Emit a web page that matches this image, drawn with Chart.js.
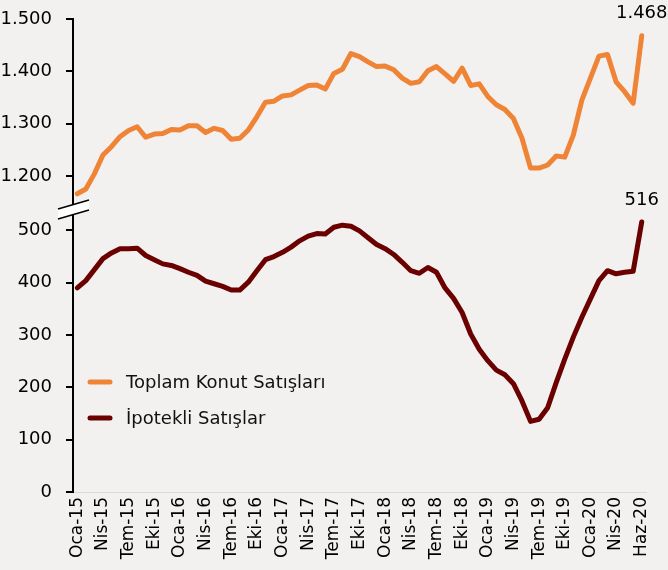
<!DOCTYPE html>
<html lang="tr">
<head>
<meta charset="utf-8">
<title>Konut Satışları</title>
<script src="https://cdn.jsdelivr.net/npm/chart.js@4.4.1/dist/chart.umd.min.js"></script>
<style>
    html, body { margin: 0; padding: 0; background: #f2f1f0; }
    #wrap { width: 668px; height: 570px; }
</style>
</head>
<body>
<div id="wrap"><canvas id="salesChart" width="668" height="570"></canvas></div>
<script>
// visible month labels, one every 3 points
const tickLabels = ['Oca-15', 'Nis-15', 'Tem-15', 'Eki-15', 'Oca-16', 'Nis-16', 'Tem-16', 'Eki-16',
    'Oca-17', 'Nis-17', 'Tem-17', 'Eki-17', 'Oca-18', 'Nis-18', 'Tem-18', 'Eki-18',
    'Oca-19', 'Nis-19', 'Tem-19', 'Eki-19', 'Oca-20', 'Nis-20', 'Haz-20'];

// Toplam Konut Satışları (thousand)
const toplamKonut = [1166, 1175, 1204, 1240, 1256, 1275, 1287, 1294, 1274, 1280,
    1281, 1289, 1288, 1296, 1296, 1283, 1291, 1287, 1270, 1272,
    1288, 1313, 1341, 1343, 1353, 1355, 1364, 1373, 1374, 1366,
    1396, 1404, 1434, 1428, 1418, 1409, 1410, 1403, 1387, 1377,
    1380, 1401, 1409, 1395, 1381, 1406, 1373, 1376, 1352, 1336,
    1327, 1310, 1272, 1215, 1215, 1221, 1238, 1236, 1278, 1345,
    1387, 1429, 1432, 1380, 1361, 1339, 1468];

// İpotekli Satışlar (thousand)
const ipotekli = [390, 404, 425, 446, 457, 465, 465, 466, 452, 444,
    436, 433, 427, 420, 414, 403, 398, 393, 386, 386,
    401, 423, 444, 450, 458, 468, 480, 489, 494, 493,
    506, 510, 508, 499, 486, 473, 465, 454, 439, 423,
    418, 429, 420, 390, 370, 343, 302, 273, 251, 233,
    224, 207, 174, 135, 139, 161, 209, 254, 296, 334,
    369, 404, 423, 417, 420, 422, 516];

const lowerTicks = [0, 100, 200, 300, 400, 500];
const upperTicks = [1200, 1300, 1400, 1500];

const seriesNames = ['Toplam Konut Satışları', 'İpotekli Satışlar'];
const seriesColors = ['#f08436', '#6b0000'];

// upper part of the broken axis is shifted down by this amount
const AXIS_SHIFT = 596;
const BREAK_AT = 540;
const FONT = 'DejaVu Sans';

// one slot per month, label only every third one
const categories = [];
for (let i = 0; i < toplamKonut.length; i++) {
    categories.push(i % 3 === 0 ? tickLabels[i / 3] : '');
}

function formatThousands(n) {
    return String(n).replace(/\B(?=(\d{3})+(?!\d))/g, '.');
}

// axis break marks on the y axis
const axisBreak = {
    id: 'axisBreak',
    afterDatasetsDraw(chart) {
        const ctx = chart.ctx;
        const x0 = chart.chartArea.left;
        const yc = chart.scales.y.getPixelForValue(BREAK_AT);
        const l = x0 - 15, r = x0 + 16;
        ctx.save();
        ctx.fillStyle = '#ffffff';
        ctx.beginPath();
        ctx.moveTo(l, yc + 4.5 - 5);
        ctx.lineTo(r, yc - 4.5 - 5);
        ctx.lineTo(r, yc - 4.5 + 5);
        ctx.lineTo(l, yc + 4.5 + 5);
        ctx.closePath();
        ctx.fill();
        ctx.strokeStyle = '#000';
        ctx.lineWidth = 1.5;
        ctx.beginPath();
        ctx.moveTo(l, yc + 4.5 - 5);
        ctx.lineTo(r, yc - 4.5 - 5);
        ctx.moveTo(l, yc + 4.5 + 5);
        ctx.lineTo(r, yc - 4.5 + 5);
        ctx.stroke();
        ctx.restore();
    }
};

// value labels on the last points
const lastLabels = {
    id: 'lastLabels',
    afterDatasetsDraw(chart) {
        const ctx = chart.ctx;
        ctx.save();
        ctx.font = '18px "' + FONT + '"';
        ctx.fillStyle = '#000';
        ctx.textAlign = 'center';
        ctx.textBaseline = 'middle';
        const raw = [toplamKonut, ipotekli];
        chart.data.datasets.forEach((ds, i) => {
            const meta = chart.getDatasetMeta(i);
            const pt = meta.data[meta.data.length - 1];
            const val = raw[i][raw[i].length - 1];
            ctx.fillText(formatThousands(val), pt.x, pt.y - 22);
        });
        ctx.restore();
    }
};

// legend inside the plot
const innerLegend = {
    id: 'innerLegend',
    afterDraw(chart) {
        const ctx = chart.ctx;
        ctx.save();
        ctx.font = '18px "' + FONT + '"';
        ctx.textBaseline = 'middle';
        seriesNames.forEach((name, i) => {
            const y = 382 + i * 36;
            ctx.strokeStyle = seriesColors[i];
            ctx.lineWidth = 5;
            ctx.lineCap = 'round';
            ctx.beginPath();
            ctx.moveTo(90, y);
            ctx.lineTo(110, y);
            ctx.stroke();
            ctx.fillStyle = '#111';
            ctx.fillText(name, 126, y + 1);
        });
        ctx.restore();
    }
};

const ctx = document.getElementById('salesChart');
new Chart(ctx, {
    type: 'line',
    data: {
        labels: categories,
        datasets: [{
            label: seriesNames[0],
            data: toplamKonut.map(v => v - AXIS_SHIFT),
            borderColor: seriesColors[0],
            borderWidth: 5,
            tension: 0,
            pointRadius: 0,
            borderJoinStyle: 'round',
            borderCapStyle: 'round',
            clip: false
        }, {
            label: seriesNames[1],
            data: ipotekli,
            borderColor: seriesColors[1],
            borderWidth: 5,
            tension: 0,
            pointRadius: 0,
            borderJoinStyle: 'round',
            borderCapStyle: 'round',
            clip: false
        }]
    },
    options: {
        responsive: false,
        animation: false,
        layout: { padding: { top: 19, right: 22, left: 0, bottom: 0 } },
        plugins: {
            legend: { display: false },
            tooltip: { enabled: false }
        },
        scales: {
            x: {
                type: 'category',
                offset: true,
                afterFit: (scale) => {
                    scale.height = 78;
                    scale.paddingLeft = 0;
                    scale.paddingRight = 0;
                },
                grid: { display: false, drawTicks: false },
                border: { display: true, color: '#dddbd9', width: 1 },
                ticks: {
                    autoSkip: false,
                    minRotation: 90,
                    maxRotation: 90,
                    padding: 5,
                    color: '#000',
                    font: { family: FONT, size: 17 },
                    callback: (v, i) => categories[i]
                }
            },
            y: {
                type: 'linear',
                min: 0,
                max: upperTicks[upperTicks.length - 1] - AXIS_SHIFT,
                afterBuildTicks: (scale) => {
                    scale.ticks = lowerTicks.concat(upperTicks.map(v => v - AXIS_SHIFT))
                        .map(v => ({ value: v }));
                },
                afterFit: (scale) => {
                    scale.width = 73;
                    scale.paddingTop = 0;
                    scale.paddingBottom = 0;
                },
                grid: { drawOnChartArea: false, drawTicks: true, tickLength: 7, color: '#000', lineWidth: 2 },
                border: { display: true, color: '#000', width: 2 },
                ticks: {
                    padding: 14,
                    color: '#000',
                    font: { family: FONT, size: 18 },
                    callback: (v) => v > BREAK_AT ? formatThousands(v + AXIS_SHIFT) : String(v)
                }
            }
        }
    },
    plugins: [axisBreak, lastLabels, innerLegend]
});
</script>
</body>
</html>
